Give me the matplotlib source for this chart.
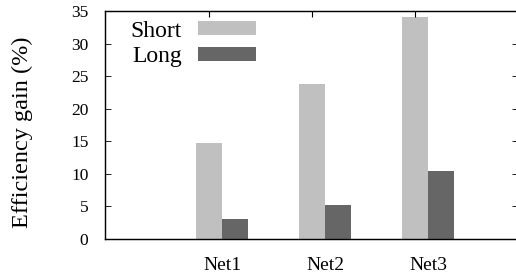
import matplotlib
matplotlib.use("Agg")
import matplotlib.pyplot as plt
import numpy as np

# data
networks = ["Net1", "Net2", "Net3"]
short_gain = [14.7, 23.8, 34.1]
long_gain = [3.0, 5.2, 10.4]
y_ticks = [0, 5, 10, 15, 20, 25, 30, 35]

plt.rcParams["font.family"] = ["Liberation Serif", "DejaVu Serif"]


def main():
    fig = plt.figure(figsize=(5.16, 2.78), dpi=100)
    ax = fig.add_axes([0.2035, 0.1403, 0.800, 0.8201])

    x = np.arange(1, len(networks) + 1)
    w = 0.25
    ax.bar(x - w / 2, short_gain, w, color="#c0c0c0", label="Short")
    ax.bar(x + w / 2, long_gain, w, color="#666666", label="Long")

    ax.set_xlim(-0.136, 3.87)
    ax.set_ylim(0, 35)
    ax.set_yticks(y_ticks)
    ax.set_xticks(x)
    ax.set_xticklabels(networks, fontsize=14)
    ax.tick_params(axis="y", labelsize=12.5, direction="in", length=4,
                   width=0.6, pad=12, right=True)
    ax.tick_params(axis="x", direction="in", length=0, pad=13)
    for s in ax.spines.values():
        s.set_linewidth(1.0)
        s.set_color("#222222")

    # mirrored tics on top, slightly left of group centres
    top = ax.twiny()
    top.set_xlim(ax.get_xlim())
    top.set_xticks(x - 0.13)
    top.set_xticklabels([])
    top.tick_params(axis="x", direction="in", length=4, width=0.8)

    ax.set_ylabel("Efficiency gain (%)", fontsize=17.5)
    ax.yaxis.set_label_coords(-0.175, 0.47)

    ax.legend(loc="upper left", bbox_to_anchor=(0.062, 0.958), frameon=False,
              markerfirst=False, fontsize=17, handlelength=2.45,
              handleheight=0.55, handletextpad=0.7, labelspacing=0.2,
              borderpad=0, borderaxespad=0)

    fig.savefig("out.png", dpi=100)


if __name__ == '__main__':
    main()
